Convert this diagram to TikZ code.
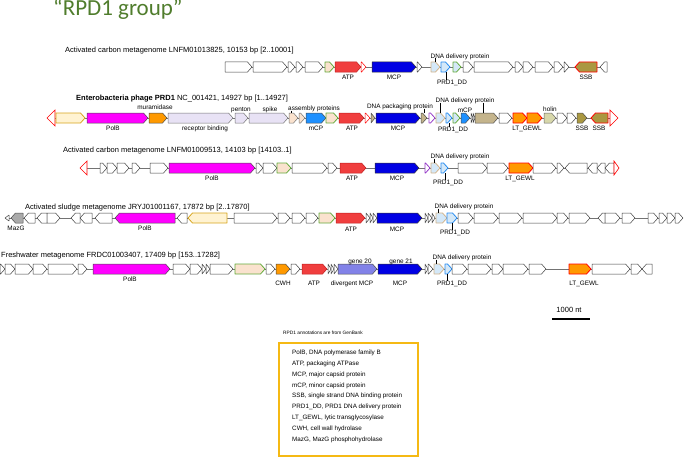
\documentclass[tikz,border=0pt]{standalone}
\usepackage{fontspec}
\setmainfont{Liberation Sans}
\newfontfamily\titlefont{Carlito}
\definecolor{titlegreen}{RGB}{80,125,45}
\definecolor{atpred}{RGB}{240,62,62}
\definecolor{atpline}{RGB}{190,30,30}
\definecolor{mcpblue}{RGB}{0,0,228}
\definecolor{polbmag}{RGB}{255,0,255}
\definecolor{silkfill}{RGB}{255,243,210}
\definecolor{goldline}{RGB}{215,165,30}
\definecolor{orangefill}{RGB}{255,153,0}
\definecolor{lavfill}{RGB}{232,226,245}
\definecolor{peachfill}{RGB}{250,226,206}
\definecolor{mcplight}{RGB}{30,144,255}
\definecolor{ltblue}{RGB}{212,232,248}
\definecolor{tanline}{RGB}{210,180,140}
\definecolor{tanfill}{RGB}{196,180,140}
\definecolor{holinfill}{RGB}{215,215,170}
\definecolor{ssbfill}{RGB}{170,152,65}
\definecolor{mazgfill}{RGB}{170,170,170}
\definecolor{divmcp}{RGB}{130,130,232}
\definecolor{purpleline}{RGB}{150,60,200}
\definecolor{greenline}{RGB}{100,170,60}
\definecolor{blueline}{RGB}{40,140,240}
\definecolor{legendgold}{RGB}{245,185,20}
\newcommand{\gR}[4][]{%
  \pgfmathsetmacro\gHL{min(4.5,#3-#2)}%
  \filldraw[gene,#1] (#2,#4-5) -- ({#3-\gHL},#4-5) -- (#3,#4) -- ({#3-\gHL},#4+5) -- (#2,#4+5) -- cycle;}
\newcommand{\gL}[4][]{%
  \pgfmathsetmacro\gHL{min(4.5,#3-#2)}%
  \filldraw[gene,#1] (#3,#4-5) -- ({#2+\gHL},#4-5) -- (#2,#4) -- ({#2+\gHL},#4+5) -- (#3,#4+5) -- cycle;}
\tikzset{
  gene/.style={draw=black!75, fill=white, line width=0.5pt, line join=round},
  atp/.style={fill=atpred, draw=atpline},
  redo/.style={fill=white, draw=red},
  mcp/.style={fill=mcpblue, draw=black!80},
  polb/.style={fill=polbmag, draw=black!70},
  silk/.style={fill=silkfill, draw=goldline, line width=0.8pt},
  orng/.style={fill=orangefill, draw=black!70},
  lt/.style={fill=orangefill, draw=red, line width=0.8pt},
  lav/.style={fill=lavfill, draw=black!55},
  peach/.style={fill=peachfill, draw=black!55},
  peachg/.style={fill=peachfill, draw=greenline, line width=0.8pt},
  mcpl/.style={fill=mcplight, draw=black!70},
  ddtan/.style={fill=ltblue, draw=tanline, line width=0.8pt},
  ddblue/.style={fill=ltblue, draw=blueline, line width=0.8pt},
  ddgreen/.style={fill=ltblue, draw=greenline, line width=0.8pt},
  purp/.style={fill=white, draw=purpleline, line width=0.8pt},
  tan/.style={fill=tanfill, draw=black!70},
  holin/.style={fill=holinfill, draw=black!60},
  ssb/.style={fill=ssbfill, draw=black!70},
  ssbr/.style={fill=ssbfill, draw=red, line width=0.8pt},
  mazg/.style={fill=mazgfill, draw=black!70},
  dmcp/.style={fill=divmcp, draw=black!70},
  bb/.style={draw=black!55, line width=0.5pt},
  endm/.style={draw=red, fill=white, line width=0.6pt},
  lab/.style={font=\fontsize{6.4}{7}\selectfont, inner sep=0pt, text height=4.6pt, text depth=0pt},
  rowlab/.style={font=\fontsize{7.5}{9}\selectfont, inner sep=0pt, anchor=west, text height=5.4pt, text depth=0pt},
  leg/.style={font=\fontsize{6.3}{7}\selectfont, inner sep=0pt, anchor=west, text height=4.5pt, text depth=0pt},
  leader/.style={draw=black, line width=0.4pt},
}
\begin{document}
\begin{tikzpicture}[x=1pt,y=-1pt]
\useasboundingbox (0,0) rectangle (685,460);
\node[anchor=base west, inner sep=0pt, font=\titlefont\fontsize{23}{27}\selectfont, text=titlegreen] (title) at (53,16) {“RPD1 group”};

% ---------------- Row 1 ----------------
\node[rowlab] (r1lab) at (65,50) {Activated carbon metagenome LNFM01013825, 10153 bp [2..10001]};
\draw[bb] (225,67) -- (607,67);
\gR{225}{252}{67}\gR{253}{287}{67}\gR{288}{295}{67}\gR{296}{303}{67}\gR{305}{323}{67}
\gR[peachg]{325}{334}{67}\gR[atp]{335}{361}{67}\gR[redo]{361}{366}{67}
\gR[mcp]{372}{416}{67}\gR{417}{422}{67}
\gR[ddtan]{431}{440}{67}\gR[ddblue]{441}{450}{67}\gR[ddgreen]{453}{461}{67}
\gR{463}{473}{67}\gR{474}{513}{67}\gR{515}{523}{67}\gR{523}{533}{67}\gR{535}{553}{67}
\gR{554}{563}{67}\gR{564}{569}{67}
\gL[ssbr]{575}{597}{67}\gL{600}{607}{67}
\node[lab] (r1atp) at (348,77) {ATP};
\node[lab] (r1mcp) at (394,77) {MCP};
\node[lab] (r1ssb) at (586,77) {SSB};
\node[lab] (r1ddl) at (460,56) {DNA delivery protein};
\coordinate (r1dd) at (435,62);
\draw[leader] (r1ddl.south -| r1dd) -- (r1dd);
\node[lab] (r1pl) at (452,82) {PRD1\_DD};
\coordinate (r1p) at (446,72);
\draw[leader] (r1p) -- (r1p |- r1pl.north);

% ---------------- Row 2 ----------------
\node[rowlab] (r2lab) at (76,98) {\bfseries Enterobacteria phage PRD1\mdseries\ NC\_001421, 14927 bp [1..14927]};
\draw[bb] (47,118) -- (618,118);
\filldraw[endm] (47,118) -- (55,110) -- (55,126) -- cycle;
\gR[silk]{56}{85}{118}\gR[polb]{87}{148}{118}\gR[orng]{149}{167}{118}
\gR[lav]{168}{233}{118}\gR[lav]{235}{248}{118}\gR[lav]{249}{288}{118}
\gR[peach]{289}{298}{118}\gR[peach]{299}{305}{118}\gR[mcpl]{306}{326}{118}
\gR[peachg]{326}{338}{118}\gR[atp]{339}{364}{118}\gR[redo]{365}{370}{118}\gR[tan]{371}{375}{118}
\gR[mcp]{376}{420}{118}\gR[tan]{421}{427}{118}\gR[purp]{429}{435}{118}
\gR[ddtan]{436}{445}{118}\gR[ddblue]{446}{452}{118}\gR[ddgreen]{453}{460}{118}
\gR[mcpl]{461}{470}{118}\gR{471}{473}{118}\gR{473}{475}{118}\gR[tan]{475}{498}{118}
\gR{499}{512}{118}\gR[lt]{513}{527}{118}\gR[lt]{527}{542}{118}\gR[holin]{544}{556}{118}
\gR{557}{567}{118}\gR{567}{576}{118}\gR[ssb]{577}{587}{118}\gL[ssbr]{591}{608}{118}
\filldraw[endm] (618,118) -- (610,110) -- (610,126) -- cycle;
\node[lab] at (155,107) {muramidase};
\node[lab] at (241,109) {penton};
\node[lab] at (270,109) {spike};
\node[lab] (r2asl) at (314,108) {assembly proteins};
\coordinate (r2as) at (291,113);
\draw[leader] (r2asl.south -| r2as) -- (r2as);
\node[lab] (r2pkl) at (400,106) {DNA packaging protein};
\coordinate (r2pk) at (424,113);
\draw[leader] (r2pkl.south -| r2pk) -- (r2pk);
\node[lab] (r2ddl) at (465,100) {DNA delivery protein};
\coordinate (r2dda) at (440,113);
\coordinate (r2ddb) at (483,113);
\draw[leader] (r2ddl.south -| r2dda) -- (r2dda);
\draw[leader] (r2ddl.south -| r2ddb) -- (r2ddb);
\node[lab] at (465,110) {mCP};
\node[lab] at (550,109) {holin};
\node[lab] at (113,128) {PolB};
\node[lab] at (205,128) {receptor binding};
\node[lab] at (316,128) {mCP};
\node[lab] at (352,128) {ATP};
\node[lab] at (398,128) {MCP};
\node[lab] (r2pl) at (453,129) {PRD1\_DD};
\coordinate (r2p) at (449,123);
\draw[leader] (r2p) -- (r2p |- r2pl.north);
\node[lab] at (527,128) {LT\_GEWL};
\node[lab] at (582,128) {SSB};
\node[lab] at (599,128) {SSB};

% ---------------- Row 3 ----------------
\node[rowlab] (r3lab) at (63,150) {Activated carbon metagenome LNFM01009513, 14103 bp [14103..1]};
\draw[bb] (80,168) -- (615,168);
\filldraw[endm] (80,168) -- (87,161) -- (87,175) -- cycle;
\gR{100}{107}{168}\gR{107}{117}{168}\gR{117}{129}{168}\gR{132}{140}{168}\gR{150}{168}{168}
\gR[polb]{169}{255}{168}\gR{256}{263}{168}\gR{263}{277}{168}\gR[peachg]{277}{291}{168}
\gR{292}{327}{168}\gR{328}{337}{168}\gR[atp]{340}{366}{168}\gR[mcp]{375}{419}{168}
\gR[purp]{425}{430}{168}\gR[ddtan]{431}{440}{168}\gR[ddblue]{441}{448}{168}
\gR{458}{487}{168}\gR{487}{508}{168}\gR[lt]{509}{533}{168}\gR{533}{556}{168}\gR{557}{564}{168}
\gL{565}{587}{168}\gL{588}{597}{168}\gL{597}{605}{168}\gL{605}{614}{168}
\filldraw[endm] (619,168) -- (614,161) -- (614,175) -- cycle;
\node[lab] at (212,178) {PolB};
\node[lab] at (352,178) {ATP};
\node[lab] at (397,178) {MCP};
\node[lab] (r3ddl) at (460,156) {DNA delivery protein};
\coordinate (r3dd) at (434,163);
\draw[leader] (r3ddl.south -| r3dd) -- (r3dd);
\node[lab] (r3pl) at (448,182) {PRD1\_DD};
\coordinate (r3p) at (445,173);
\draw[leader] (r3p) -- (r3p |- r3pl.north);
\node[lab] at (520,178) {LT\_GEWL};

% ---------------- Row 4 ----------------
\node[rowlab] (r4lab) at (25,207) {Activated sludge metagenome JRYJ01001167, 17872 bp [2..17870]};
\draw[bb] (5,218) -- (683,218);
\draw[gene] (5,218) -- (9,215) -- (9,221) -- cycle;
\gL[mazg]{11}{23}{218}\gL{24}{35}{218}\gL{37}{47}{218}\gR{47}{60}{218}
\gL{71}{80}{218}\gL{80}{92}{218}\gL{95}{112}{218}\gL[polb]{115}{175}{218}
\gL{177}{187}{218}\gL[silk]{188}{227}{218}
\gR{234}{277}{218}\gR{278}{290}{218}\gR{292}{305}{218}\gR{306}{318}{218}
\gR[peachg]{319}{335}{218}\gR[atp]{336}{365}{218}
\gR{366}{370}{218}\gR{370}{373}{218}\gR{373}{377}{218}\gR[mcp]{377}{422}{218}
\gR{425}{428}{218}\gR{428}{432}{218}\gR{432}{435}{218}
\gR[ddtan]{436}{447}{218}\gR[ddblue]{447}{457}{218}
\gR{458}{473}{218}\gR{474}{498}{218}\gR{499}{522}{218}\gR{523}{557}{218}\gR{557}{568}{218}\gR{569}{590}{218}
\gL{598}{605}{218}\gR{605}{620}{218}\gR{622}{635}{218}
\gR{648}{658}{218}\gR{659}{667}{218}\gR{667}{675}{218}\gR{675}{683}{218}
\node[lab] at (16,228) {MazG};
\node[lab] at (145,228) {PolB};
\node[lab] at (351,229) {ATP};
\node[lab] at (397,229) {MCP};
\node[lab] (r4ddl) at (464,206) {DNA delivery protein};
\coordinate (r4dd) at (438,213);
\draw[leader] (r4ddl.south -| r4dd) -- (r4dd);
\node[lab] (r4pl) at (455,232) {PRD1\_DD};
\coordinate (r4p) at (452,223);
\draw[leader] (r4p) -- (r4p |- r4pl.north);

% ---------------- Row 5 ----------------
\node[rowlab] (r5lab) at (1,255) {Freshwater metagenome FRDC01003407, 17409 bp [153..17282]};
\draw[bb] (0,269) -- (652,269);
\gR{0}{5}{269}\gR{5}{15}{269}\gR{15}{33}{269}\gR{33}{47}{269}\gR{48}{77}{269}\gR{78}{87}{269}
\gR[polb]{93}{170}{269}\gR{173}{190}{269}\gR{190}{202}{269}\gR{202}{206}{269}\gR{206}{210}{269}
\gR{210}{233}{269}\gR[peachg]{235}{265}{269}\gR{266}{275}{269}\gR[orng]{276}{290}{269}
\gR{291}{300}{269}\gR[atp]{302}{327}{269}\gR{328}{331}{269}\gR{331}{334}{269}\gR{334}{338}{269}
\gR[dmcp]{338}{377}{269}\gR[mcp]{378}{422}{269}\gR{425}{428}{269}\gR{428}{433}{269}
\gR[ddtan]{434}{444}{269}\gR[ddblue]{445}{452}{269}
\gR{452}{467}{269}\gR{468}{491}{269}\gR{492}{503}{269}\gR{503}{528}{269}\gR{529}{546}{269}
\gR[lt]{569}{591}{269}\gR{592}{630}{269}\gR{631}{642}{269}\gL{642}{652}{269}
\node[lab] at (130,279) {PolB};
\node[lab] at (283,283) {CWH};
\node[lab] at (314,283) {ATP};
\node[lab] at (360,261) {gene 20};
\node[lab] at (352,283) {divergent MCP};
\node[lab] at (401,261) {gene 21};
\node[lab] at (400,283) {MCP};
\node[lab] (r5ddl) at (462,257) {DNA delivery protein};
\coordinate (r5dd) at (436,264);
\draw[leader] (r5ddl.south -| r5dd) -- (r5dd);
\node[lab] (r5pl) at (452,283) {PRD1\_DD};
\coordinate (r5p) at (447,274);
\draw[leader] (r5p) -- (r5p |- r5pl.north);
\node[lab] at (584,283) {LT\_GEWL};

% ---------------- Scale bar ----------------
\node[lab, font=\fontsize{7.5}{9}\selectfont, text height=5.4pt] (sclab) at (569,310) {1000 nt};
\coordinate (sa) at (552,319);
\coordinate (sb) at (590,319);
\draw[line width=1.2pt] (sa) -- (sb);

% ---------------- Legend ----------------
\node[leg, font=\fontsize{4.8}{6}\selectfont, text height=3.5pt] (legnote) at (283,333) {RPD1 annotations are from GenBank};
\draw[draw=legendgold, line width=1.2pt] (279,343) rectangle (418,456);
\node[leg] at (292,352) {PolB, DNA polymerase family B};
\node[leg] at (292,363) {ATP, packaging ATPase};
\node[leg] at (292,374) {MCP, major capsid protein};
\node[leg] at (292,385) {mCP, minor capsid protein};
\node[leg] at (292,395.5) {SSB, single strand DNA binding protein};
\node[leg] at (292,406.5) {PRD1\_DD, PRD1 DNA delivery protein};
\node[leg] at (292,417.5) {LT\_GEWL, lytic transglycosylase};
\node[leg] at (292,428.5) {CWH, cell wall hydrolase};
\node[leg] at (292,439.5) {MazG, MazG phosphohydrolase};
\end{tikzpicture}
\end{document}
